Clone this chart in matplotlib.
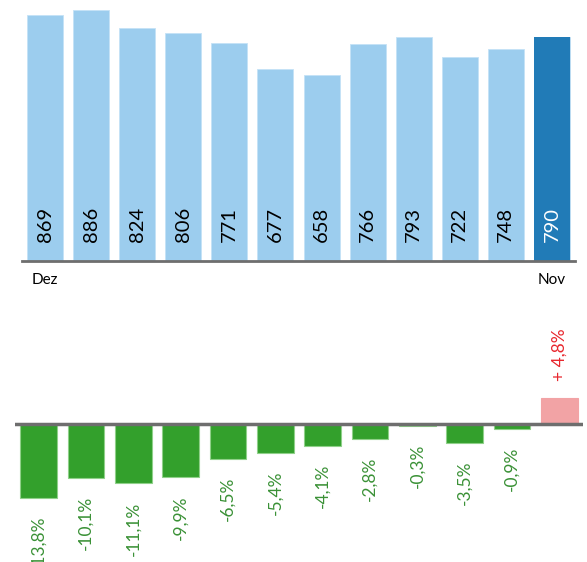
import numpy as np
import matplotlib
matplotlib.use("Agg")
import matplotlib.pyplot as plt

plt.rcParams['font.family'] = ['Lato', 'DejaVu Sans']

# data
values = [869, 886, 824, 806, 771, 677, 658, 766, 793, 722, 748, 790]
changes = [-13.8, -10.1, -11.1, -9.9, -6.5, -5.4, -4.1, -2.8, -0.3, -3.5, -0.9, 4.8]
change_labels = ['-13,8%', '-10,1%', '-11,1%', '-9,9%', '-6,5%', '-5,4%',
                 '-4,1%', '-2,8%', '-0,3%', '-3,5%', '-0,9%', '+ 4,8%']
tick_labels = ['Dez', 'Nov']

W, H = 587, 562
fig = plt.figure(figsize=(W / 100, H / 100), dpi=100)

light_blue = '#9ccdee'
dark_blue = '#217bb7'
green = '#33a02c'
pink = '#f2a3a5'
gray = '#6e6e6e'

x = np.arange(len(values))

# top panel: absolute values
ax1 = fig.add_axes([22 / W, (H - 261) / H, 553 / W, 261 / H])
colors = [light_blue] * (len(values) - 1) + [dark_blue]
ax1.bar(x, values, width=0.78, color=colors, edgecolor='#c4e2f6', linewidth=0.6)
ax1.bar(x[-1], values[-1], width=0.78, color=dark_blue)
ax1.set_xlim(-0.5, 11.5)
ax1.set_ylim(0, 922)
for i, v in enumerate(values):
    ax1.annotate(str(v), (i, 0), xytext=(0, 14), textcoords='offset points',
                 rotation=90, ha='center', va='bottom', fontsize=14.5,
                 color='white' if i == len(values) - 1 else 'black')
for s in ['top', 'right', 'left']:
    ax1.spines[s].set_visible(False)
ax1.spines['bottom'].set_color(gray)
ax1.spines['bottom'].set_linewidth(2)
ax1.set_yticks([])
ax1.set_xticks([0, 11])
ax1.set_xticklabels(tick_labels, fontsize=11)
ax1.tick_params(axis='x', length=0, pad=9)

# bottom panel: percent change
scale = 5.35
ax2 = fig.add_axes([15 / W, 0, 568 / W, 262 / H])
bcolors = [green if c < 0 else pink for c in changes]
ecolors = ['#8fd089' if c < 0 else pink for c in changes]
ax2.bar(x, changes, width=0.77, color=bcolors, edgecolor=ecolors, linewidth=0.8)
ax2.axhline(0, color=gray, linewidth=2.5)
ax2.set_xlim(-0.5, 11.5)
ax2.set_ylim(-(H - 424) / scale, (424 - 300) / scale)
for i, c in enumerate(changes):
    if c < 0:
        ax2.annotate(change_labels[i], (i, c), xytext=(0, -13), textcoords='offset points',
                     rotation=90, ha='center', va='top', fontsize=12.5,
                     color='#3a9136', annotation_clip=False)
    else:
        ax2.annotate(change_labels[i], (i, c), xytext=(0, 12.5), textcoords='offset points',
                     rotation=90, ha='center', va='bottom', fontsize=12.5,
                     color='#e8262d', annotation_clip=False)
ax2.axis('off')

fig.savefig('out.png', dpi=100)
